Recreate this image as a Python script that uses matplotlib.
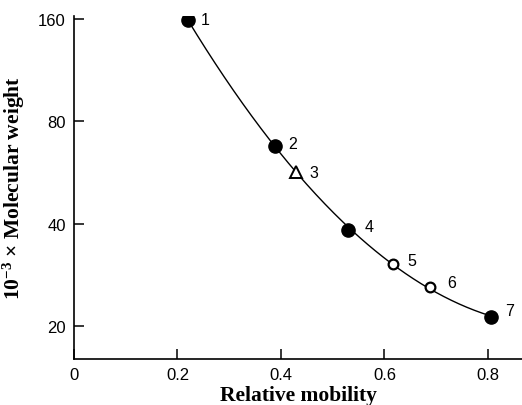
import numpy as np
import matplotlib
matplotlib.use("Agg")
import matplotlib.pyplot as plt
from matplotlib.ticker import FixedLocator, FixedFormatter, NullLocator

plt.rcParams["font.family"] = ["Liberation Sans", "DejaVu Sans"]
plt.rcParams["mathtext.fontset"] = "custom"
plt.rcParams["mathtext.rm"] = "Liberation Serif"
plt.rcParams["mathtext.bf"] = "Liberation Serif:bold"
plt.rcParams["mathtext.default"] = "bf"

# protein standards: relative mobility vs molecular weight (x 10^-3)
labels = ["1", "2", "3", "4", "5", "6", "7"]
mobility = [0.220, 0.388, 0.429, 0.530, 0.617, 0.689, 0.806]
mol_weight = [159, 67.6, 56.7, 38.4, 30.5, 26.1, 21.2]
marker_kind = ["filled", "filled", "triangle", "filled", "open", "open", "filled"]

y_ticks = [20, 40, 80, 160]
x_ticks = [0, 0.2, 0.4, 0.6, 0.8]
x_ticklabels = ["0", "0.2", "0.4", "0.6", "0.8"]

# label offsets in points
label_offsets = [(9, 0), (10, 2), (10, 0), (12, 2), (10, 2), (12, 3), (10, 5)]

fig = plt.figure(figsize=(5.22, 4.06), dpi=100)
ax = fig.add_axes([74 / 522, 46 / 406, 1 - 74 / 522, (360 - 17) / 406])

# smooth calibration curve: quadratic fit in log space
x = np.array(mobility)
y = np.array(mol_weight)
coef = np.polyfit(x, np.log(y), 2)
xs = np.linspace(x.min(), x.max(), 200)
ax.plot(xs, np.exp(np.polyval(coef, xs)), color="black", lw=1.0, zorder=1)

for xi, yi, kind in zip(mobility, mol_weight, marker_kind):
    if kind == "filled":
        ax.plot(xi, yi, "o", ms=9.5, mfc="black", mec="black", zorder=3)
    elif kind == "open":
        ax.plot(xi, yi, "o", ms=7, mfc="white", mec="black", mew=1.6, zorder=3)
    else:
        ax.plot(xi, yi, "^", ms=8, mfc="white", mec="black", mew=1.4, zorder=3)

for lab, xi, yi, off in zip(labels, mobility, mol_weight, label_offsets):
    ax.annotate(lab, (xi, yi), xytext=off, textcoords="offset points",
                fontsize=11.5, va="center", ha="left")

ax.set_yscale("log")
ax.set_xlim(0, 0.866)
ax.set_ylim(16.0, 163)

ax.yaxis.set_major_locator(FixedLocator(y_ticks))
ax.yaxis.set_major_formatter(FixedFormatter([str(t) for t in y_ticks]))
ax.yaxis.set_minor_locator(NullLocator())
ax.set_xticks(x_ticks)
ax.set_xticklabels(x_ticklabels)

ax.spines["top"].set_visible(False)
ax.spines["right"].set_visible(False)
for s in ("left", "bottom"):
    ax.spines[s].set_linewidth(1.2)
ax.tick_params(direction="in", length=7, width=1.1, labelsize=12, pad=6)

ax.set_xlabel("Relative mobility", family="Liberation Serif", fontweight="bold",
              fontsize=15.5, labelpad=2)
ax.set_ylabel(r"10$^{-3}$ $\times$ Molecular weight", family="Liberation Serif",
              fontweight="bold", fontsize=15.5, labelpad=8)

fig.savefig("out.png", dpi=100)
